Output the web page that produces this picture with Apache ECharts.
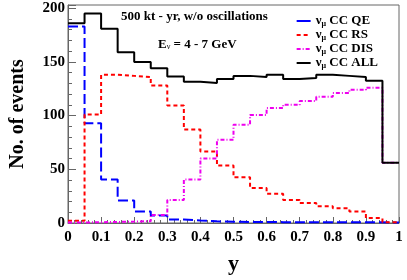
<!DOCTYPE html>
<html>
<head>
<meta charset="utf-8">
<script src="https://cdn.jsdelivr.net/npm/echarts@6/dist/echarts.min.js"></script>
<style>html,body{margin:0;padding:0;background:#fff;}#c{width:407px;height:280px;}</style>
</head>
<body>
<div id="c"></div>
<script>
// Bin left edges (width 0.05)
var binEdges = [0,0.05,0.1,0.15,0.2,0.25,0.3,0.35,0.4,0.45,0.5,0.55,0.6,0.65,0.7,0.75,0.8,0.85,0.9,0.95];
var binEnd = 1;
var qeValues  = [183, 93, 40.5, 21, 10.7, 7, 3.3, 2.3, 1.6, 1.2, 1, 1, 0.8, 0.8, 0.8, 0.7, 0.7, 0.6, 0.6, 0.5];
var rsValues  = [2, 101, 138, 137, 136, 128, 109.5, 87, 66.5, 53.5, 42.5, 32.5, 27.3, 21.5, 18.6, 15.7, 13.7, 10.8, 4.6, 0.8];
var disValues = [0.5, 0.7, 1, 1.3, 1.7, 7.5, 21.5, 40.4, 60, 77.6, 91.5, 100.5, 107, 110, 113.6, 117.5, 121, 124, 126, 56];
var allValues = [186, 195, 181, 159, 150, 144, 136.5, 131.5, 130.3, 134, 137, 136, 138, 134, 135, 138, 137, 136, 132.5, 56];
var seriesNames = ['QE', 'RS', 'DIS', 'ALL'];

function hist(vals) {
  var d = binEdges.map(function (x, i) { return [x, vals[i]]; });
  d.push([binEnd, vals[vals.length - 1]]);
  return d;
}
var FONT = '"Liberation Serif", "Times New Roman", serif';
var chart = echarts.init(document.getElementById('c'), null, {renderer: 'canvas'});
function mk(name, vals, color, type) {
  return {
    name: name, type: 'line', step: 'end', data: hist(vals),
    showSymbol: false, symbol: 'circle', animation: false,
    lineStyle: {color: color, width: 2, type: type},
    itemStyle: {color: color}
  };
}
chart.setOption({
  animation: false,
  grid: {left: 52, right: 8, top: 5, bottom: 41, show: true, borderColor: '#666', borderWidth: 1},
  xAxis: {
    type: 'value', min: 0, max: 1, interval: 0.1,
    axisLine: {show: true, lineStyle: {color: '#666', width: 1}},
    axisTick: {inside: true, length: 6, lineStyle: {color: '#666'}},
    minorTick: {show: true, splitNumber: 5, length: 3, lineStyle: {color: '#666'}},
    splitLine: {show: false},
    axisLabel: {fontFamily: FONT, fontWeight: 'bold', fontSize: 15, color: '#000', margin: 7},
    name: 'y', nameLocation: 'middle', nameGap: 30,
    nameTextStyle: {fontFamily: FONT, fontWeight: 'bold', fontSize: 22, color: '#000'}
  },
  yAxis: {
    type: 'value', min: 0, max: 203, interval: 50,
    axisLine: {show: true, lineStyle: {color: '#666', width: 1}},
    axisTick: {inside: true, length: 8, lineStyle: {color: '#666'}},
    minorTick: {show: true, splitNumber: 5, length: 4, lineStyle: {color: '#666'}},
    splitLine: {show: false},
    axisLabel: {fontFamily: FONT, fontWeight: 'bold', fontSize: 15, color: '#000', margin: 3,
      showMaxLabel: false},
    name: 'No. of events', nameLocation: 'middle', nameGap: 40,
    nameTextStyle: {fontFamily: FONT, fontWeight: 'bold', fontSize: 20, color: '#000'}
  },
  legend: {
    orient: 'vertical', right: 24, top: 9, itemGap: 0, itemWidth: 14, itemHeight: 10,
    itemStyle: {opacity: 0},
    data: [
      {name: seriesNames[0], lineStyle: {type: 'solid'}},
      seriesNames[1], seriesNames[2], seriesNames[3]
    ],
    formatter: function (n) { return '{g|\u03bd}{s|\u03bc}{t| CC ' + n + '}'; },
    textStyle: {
      fontFamily: FONT, fontWeight: 'bold', fontSize: 13, color: '#000', lineHeight: 14,
      rich: {
        g: {fontFamily: FONT, fontSize: 13, color: '#000', lineHeight: 14},
        s: {fontFamily: FONT, fontSize: 8, color: '#000', verticalAlign: 'bottom', padding: [5, 0, 0, 0], lineHeight: 14},
        t: {fontFamily: FONT, fontWeight: 'bold', fontSize: 13, color: '#000', lineHeight: 14}
      }
    }
  },
  graphic: [
    {type: 'text', left: 121, top: 10, style: {text: '500 kt - yr, w/o oscillations',
      font: 'bold 13px ' + FONT, fill: '#000'}},
    {type: 'text', left: 158, top: 38, style: {
      text: '{e|E}{s|\u03bd}{e| = 4 - 7 GeV}',
      rich: {
        e: {font: 'bold 13px ' + FONT, fill: '#000'},
        s: {font: '8px ' + FONT, fill: '#000', verticalAlign: 'bottom', padding: [5, 0, 0, 0]}
      }}}
  ],
  series: [
    mk('QE', qeValues, '#0000ff', [10, 4]),
    mk('RS', rsValues, '#ff0000', [4, 3]),
    mk('DIS', disValues, '#ee00ee', [4, 2, 1, 2]),
    mk('ALL', allValues, '#000000', 'solid')
  ]
});
</script>
</body>
</html>
